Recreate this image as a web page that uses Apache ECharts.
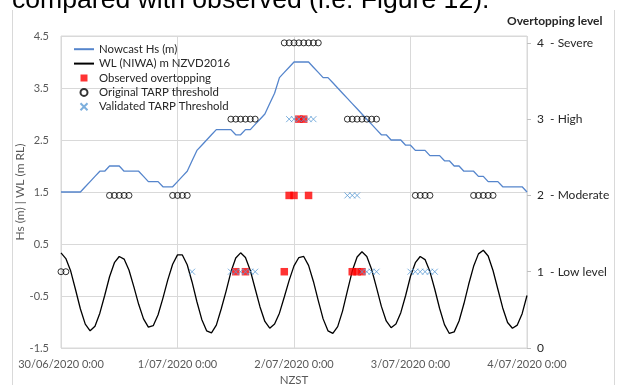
<!DOCTYPE html>
<html>
<head>
<meta charset="utf-8">
<script src="https://cdn.jsdelivr.net/npm/echarts@6/dist/echarts.min.js"></script>
<style>
  html, body { margin: 0; padding: 0; background: #fff; }
  #main { width: 617px; height: 385px; }
</style>
</head>
<body>
<div id="main"></div>
<script>
// hourly values from 30/06/2020 0:00 (hour 0) to 4/07/2020 0:00 (hour 96)
const hsValues = [
  1.5, 1.5, 1.5, 1.5, 1.5, 1.6, 1.7, 1.8, 1.9, 1.9, 2.0, 2.0, 2.0, 1.9, 1.9, 1.9, 1.9, 1.8, 1.7, 1.7,
  1.7, 1.6, 1.6, 1.6, 1.7, 1.8, 1.9, 2.1, 2.3, 2.4, 2.5, 2.6, 2.7, 2.7, 2.7, 2.7, 2.6, 2.6, 2.7, 2.7,
  2.8, 2.9, 3.0, 3.2, 3.4, 3.7, 3.8, 3.9, 4.0, 4.0, 4.0, 4.0, 3.9, 3.8, 3.7, 3.7, 3.6, 3.5, 3.4, 3.3,
  3.2, 3.1, 3.0, 2.9, 2.8, 2.7, 2.6, 2.6, 2.5, 2.5, 2.5, 2.4, 2.4, 2.3, 2.3, 2.3, 2.2, 2.2, 2.2, 2.1,
  2.1, 2.0, 2.0, 1.9, 1.9, 1.9, 1.8, 1.8, 1.7, 1.7, 1.7, 1.6, 1.6, 1.6, 1.6, 1.6, 1.5
];
const wlValues = [
  0.33, 0.22, -0.02, -0.38, -0.75, -1.04, -1.17, -1.08, -0.83, -0.49, -0.13, 0.14, 0.26, 0.21, 0.00, -0.32,
  -0.66, -0.94, -1.10, -1.07, -0.86, -0.54, -0.19, 0.11, 0.29, 0.29, 0.10, -0.23, -0.61, -0.95, -1.17, -1.21,
  -1.06, -0.75, -0.41, -0.04, 0.23, 0.33, 0.24, -0.01, -0.36, -0.71, -0.99, -1.12, -1.04, -0.83, -0.52, -0.20,
  0.08, 0.24, 0.26, 0.09, -0.22, -0.59, -0.94, -1.17, -1.22, -1.09, -0.79, -0.40, -0.02, 0.25, 0.35, 0.26,
  0.01, -0.34, -0.70, -0.98, -1.11, -1.04, -0.82, -0.49, -0.12, 0.14, 0.26, 0.20, -0.03, -0.37, -0.74, -1.05,
  -1.22, -1.19, -0.98, -0.65, -0.27, 0.07, 0.31, 0.38, 0.27, -0.01, -0.37, -0.73, -1.01, -1.12, -1.06, -0.84,
  -0.49
];

// overtopping markers: hour of occurrence, grouped by level (right axis)
const observedL1 = [36, 38, 46, 60, 61, 62];
const observedL2 = [47, 48, 51];
const observedL3 = [49, 50];
const originalL1 = [0, 1];
const originalL2 = [10, 11, 12, 13, 14, 23, 24, 25, 26, 73, 74, 75, 76, 85, 86, 87, 88, 89];
const originalL3 = [35, 36, 37, 38, 39, 40, 59, 60, 61, 62, 63, 64, 65];
const originalL4 = [46, 47, 48, 49, 50, 51, 52, 53];
const validatedL1 = [27, 35, 36, 37, 38, 39, 40, 62, 63, 64, 65, 72, 73, 74, 75, 76, 77];
const validatedL2 = [59, 60, 61];
const validatedL3 = [47, 48, 49, 50, 51, 52];

const dateLabels = ['30/06/2020 0:00', '1/07/2020 0:00', '2/07/2020 0:00', '3/07/2020 0:00', '4/07/2020 0:00'];
const levelLabels = ['0', '1  - Low level', '2  - Moderate', '3  - High', '4  - Severe'];

const FONT = 'Lato';
const LABEL = '#595959';
const GRID = '#d9d9d9';

const toLine = (vals) => vals.map((v, i) => [i, v]);
const toLevels = (groups) => {
  const out = [];
  groups.forEach((hrs, lvl) => hrs.forEach((h) => out.push([h, lvl + 1])));
  return out;
};

const myChart = echarts.init(document.getElementById('main'));

const noSymbol = { color: 'transparent', borderWidth: 0, opacity: 0 };

const option = {
  animation: false,
  textStyle: { fontFamily: FONT },
  graphic: [
    {
      type: 'text', x: 12, y: 14,
      style: { text: 'compared with observed (i.e. Figure 12).', fontSize: 26.6, fontFamily: 'Liberation Sans', fill: '#000', verticalAlign: 'bottom' }
    },
    { type: 'line', shape: { x1: 12.5, y1: 10, x2: 12.5, y2: 385 }, style: { stroke: GRID, lineWidth: 1 } },
    { type: 'line', shape: { x1: 614.5, y1: 10, x2: 614.5, y2: 385 }, style: { stroke: GRID, lineWidth: 1 } },
    {
      type: 'text', x: 507, y: 21,
      style: { text: 'Overtopping level', fontSize: 12, fontWeight: 'bold', fontFamily: FONT, fill: '#262626', verticalAlign: 'middle' }
    }
  ],
  grid: {
    left: 61, right: 90, top: 36, bottom: 37,
    outerBoundsMode: 'none',
    show: true, borderColor: GRID, borderWidth: 1
  },
  legend: {
    orient: 'vertical',
    left: 68, top: 37,
    itemWidth: 20, itemHeight: 7, itemGap: 0,
    textStyle: { fontFamily: FONT, fontSize: 11.4, color: '#262626', lineHeight: 14.4 },
    data: [
      { name: 'Nowcast Hs (m)', itemStyle: noSymbol },
      { name: 'WL (NIWA) m NZVD2016', itemStyle: noSymbol },
      { name: 'Observed overtopping', icon: 'path://M0,0L7,0L7,7L0,7Z' },
      'Original TARP threshold',
      'Validated TARP Threshold'
    ]
  },
  xAxis: {
    type: 'value',
    min: 0, max: 96, interval: 24,
    name: 'NZST', nameLocation: 'middle', nameGap: 26, nameMoveOverlap: false,
    nameTextStyle: { fontFamily: FONT, fontSize: 11.5, color: LABEL },
    axisLine: { show: false },
    axisTick: { show: false },
    splitLine: { show: true, lineStyle: { color: GRID, width: 1 } },
    axisLabel: {
      fontFamily: FONT, fontSize: 11, color: LABEL, margin: 11,
      formatter: (v) => dateLabels[v / 24] || ''
    }
  },
  yAxis: [
    {
      type: 'value',
      min: -1.5, max: 4.5, interval: 1,
      name: 'Hs (m) | WL (m RL)', nameLocation: 'middle', nameGap: 35, nameRotate: 90, nameMoveOverlap: false,
      nameTextStyle: { fontFamily: FONT, fontSize: 12, color: LABEL },
      axisLine: { show: false },
      axisTick: { show: false },
      splitLine: { show: true, lineStyle: { color: GRID, width: 1 } },
      axisLabel: { fontFamily: FONT, fontSize: 11, color: LABEL, margin: 12, formatter: (v) => v.toFixed(1) }
    },
    {
      type: 'value',
      min: 0, max: 4.09,
      position: 'right',
      axisLine: { show: false },
      axisTick: { show: true, length: 4, customValues: [0, 1, 2, 3, 4], lineStyle: { color: '#bfbfbf' } },
      splitLine: { show: false },
      axisLabel: {
        customValues: [0, 1, 2, 3, 4],
        fontFamily: FONT, fontSize: 12, color: '#262626', margin: 10,
        formatter: (v) => levelLabels[Math.round(v)]
      }
    }
  ],
  series: [
    {
      name: 'Nowcast Hs (m)',
      type: 'line',
      data: toLine(hsValues),
      symbol: 'none',
      lineStyle: { color: '#5585CC', width: 1.3 },
      itemStyle: { color: '#5585CC' },
      z: 2
    },
    {
      name: 'WL (NIWA) m NZVD2016',
      type: 'line',
      data: toLine(wlValues),
      symbol: 'none',
      lineStyle: { color: '#000', width: 1.3 },
      itemStyle: { color: '#000' },
      z: 2
    },
    {
      name: 'Observed overtopping',
      type: 'scatter',
      yAxisIndex: 1,
      symbol: 'rect',
      symbolSize: 7.5,
      itemStyle: { color: '#FF0000' },
      data: toLevels([observedL1, observedL2, observedL3]),
      z: 3
    },
    {
      name: 'Original TARP threshold',
      type: 'scatter',
      yAxisIndex: 1,
      symbol: 'circle',
      symbolSize: 6,
      itemStyle: { color: 'transparent', borderColor: '#000', borderWidth: 1 },
      data: toLevels([originalL1, originalL2, originalL3, originalL4]),
      z: 4
    },
    {
      name: 'Validated TARP Threshold',
      type: 'scatter',
      yAxisIndex: 1,
      symbol: 'path://M0,0L10,10M10,0L0,10',
      symbolSize: 6,
      itemStyle: { color: 'transparent', borderColor: '#5B9BD5', borderWidth: 1 },
      data: toLevels([validatedL1, validatedL2, validatedL3]),
      z: 5
    }
  ]
};

myChart.setOption(option);
</script>
</body>
</html>
